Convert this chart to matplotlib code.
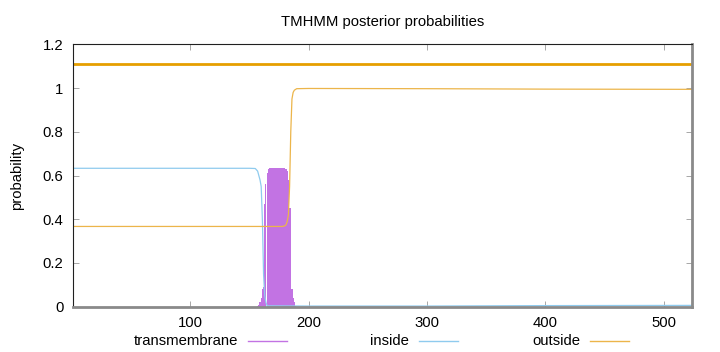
import matplotlib
matplotlib.use('Agg')
import matplotlib.pyplot as plt
from matplotlib.lines import Line2D

plt.rcParams['font.family'] = ['Liberation Sans', 'DejaVu Sans']
plt.rcParams['font.size'] = 10.7

seq_len = 524

# transmembrane posterior per residue (drawn as impulses)
tm_pos = list(range(157, 190))
tm_prob = [0.005, 0.01, 0.02, 0.04, 0.08, 0.09, 0.47, 0.56, 0.61, 0.63,
           0.635, 0.635, 0.635, 0.635, 0.635, 0.635, 0.635, 0.635, 0.635, 0.635,
           0.635, 0.635, 0.635, 0.635, 0.63, 0.62, 0.58, 0.45, 0.45, 0.08,
           0.04, 0.02, 0.005]

# inside / outside posteriors (key points along the sequence)
inside_pos = [1, 150, 155, 157, 158, 159, 160, 161, 162, 163, 164, 165, 200, 300, 400, 524]
inside_prob = [0.633, 0.633, 0.632, 0.62, 0.60, 0.58, 0.55, 0.40, 0.15, 0.05, 0.02, 0.004,
               0.003, 0.003, 0.005, 0.006]

outside_pos = [1, 178, 180, 181, 182, 183, 184, 185, 186, 187, 188, 190, 200, 300, 400, 524]
outside_prob = [0.367, 0.367, 0.37, 0.375, 0.39, 0.42, 0.55, 0.80, 0.95, 0.98, 0.99, 0.997,
                0.998, 0.997, 0.995, 0.994]

# predicted topology line at top
topo_level = 1.11

tm_col = '#c273e3'
in_col = '#8fcbee'
out_col = '#ecb54a'

fig = plt.figure(figsize=(7.2, 3.52), dpi=100)
ax = fig.add_axes([73/720, 1 - 306.7/352, (692-73)/720, (306.7-44.3)/352])

ax.bar(tm_pos, tm_prob, width=0.95, color=tm_col, linewidth=0)
ax.plot(inside_pos, inside_prob, color=in_col, lw=0.9)
ax.plot(outside_pos, outside_prob, color=out_col, lw=0.9)
ax.plot([1, seq_len], [topo_level, topo_level], color='#e69f00', lw=2.0, solid_capstyle='butt')

ax.set_xlim(1, seq_len)
ax.set_ylim(0, 1.2)
ax.set_xticks([100, 200, 300, 400, 500])
ax.set_yticks([0, 0.2, 0.4, 0.6, 0.8, 1.0, 1.2])
ax.set_yticklabels(['0', '0.2', '0.4', '0.6', '0.8', '1', '1.2'])
ax.tick_params(direction='in', length=4, width=0.6, color='#999999',
               top=True, right=True, pad=7, labelsize=10.7)
ax.set_ylabel('probability', labelpad=13)

for s in ['left', 'top']:
    ax.spines[s].set_color('#202020')
    ax.spines[s].set_linewidth(0.8)
for s in ['right', 'bottom']:
    ax.spines[s].set_color('#8a8a8a')
    ax.spines[s].set_linewidth(2.0)

fig.text(382.5/720, 1 - 21.7/352, 'TMHMM posterior probabilities',
         ha='center', va='center', fontsize=10.7)

# gnuplot-style key below the plot
names = ['transmembrane', 'inside', 'outside']
cols = [tm_col, in_col, out_col]
ky = 1 - 341/352
for i, (n, c) in enumerate(zip(names, cols)):
    xr = 238 + i*171
    fig.text(xr/720, ky, n, ha='right', va='center', fontsize=10.7)
    fig.add_artist(Line2D([(xr + 10)/720, (xr + 49)/720], [ky, ky],
                          color=c, lw=1.0, transform=fig.transFigure))

fig.savefig('out.png', dpi=100)
